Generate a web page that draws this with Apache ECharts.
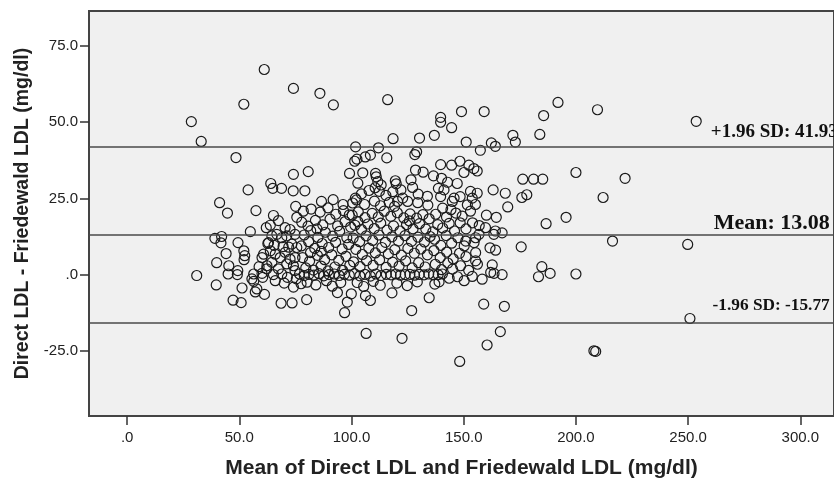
<!DOCTYPE html>
<html>
<head>
<meta charset="utf-8">
<script src="https://cdn.jsdelivr.net/npm/echarts@6/dist/echarts.min.js"></script>
<style>
html,body{margin:0;padding:0;background:#fff;}
#chart{width:834px;height:484px;}
</style>
</head>
<body>
<div id="chart"></div>
<script>
// ---- data: [mean of Direct & Friedewald LDL, Direct - Friedewald LDL] ----
const highOutliers = [
[61.1,67.3],[74.1,61.1],[52.0,55.9],[28.6,50.2],[33.0,43.7],[48.5,38.4],
[85.9,59.5],[91.9,55.7],[116.1,57.4],[149.0,53.5],[159.1,53.5],[139.7,51.6],[139.7,50.0],[144.6,48.2],
[136.9,45.7],[130.3,44.8],[118.5,44.6],[151.1,43.5],[162.3,43.2],[164.1,42.1],[171.9,45.7],[173.0,43.5],
[183.9,46.0],[185.6,52.2],[192.0,56.5],[209.6,54.1],[253.6,50.3],
[101.8,41.9],[112.0,41.6],[157.4,40.8],[101.4,37.2],[102.4,37.9],[106.1,38.6],[108.4,39.2],[115.7,38.3],
[128.2,39.4],[129.0,40.3],[139.7,36.1],[144.6,35.9],[148.3,37.2],[152.3,35.9]
];
const upperBand = [
[74.1,32.9],[80.7,33.8],[99.1,33.2],[105.0,33.4],[110.7,33.2],[111.0,32.1],[128.5,34.3],[131.9,33.6],[136.5,32.4],
[150.1,33.5],[154.5,34.8],[156.0,34.0],[140.1,31.6],[142.8,30.3],[147.1,29.9],[138.7,28.3],[141.2,27.8],
[139.7,25.6],[144.9,24.0],[145.7,25.1],[148.4,25.6],[153.0,27.3],[156.0,26.7],[153.8,25.1],[155.2,23.0],
[163.1,27.8],[168.5,26.7],[169.6,22.2],[64.0,29.9],[64.9,28.3],[68.8,28.3],[53.9,27.8],[74.0,27.5],[79.2,27.5],
[75.1,22.4],[41.2,23.6],[102.8,30.0],[111.7,30.5],[113.2,29.4],[112.4,27.3],[110.5,28.5],[119.5,30.8],
[119.9,29.8],[126.5,31.1],[127.2,28.6],[86.6,24.0],[91.8,24.6],[96.2,23.0],[101.7,25.1],[120.5,24.0],
[122.8,25.1],[125.0,24.0],[102.2,24.5],[151.6,22.9]
];
const leftCluster = [
[75.6,18.8],[44.7,20.2],[57.4,21.0],[65.2,19.4],[67.4,17.7],[62.0,15.4],[63.8,16.2],[54.9,14.1],[39.1,11.9],
[42.1,12.5],[41.8,10.4],[49.4,10.5],[44.1,6.9],[39.9,3.9],[31.0,-0.3],[39.7,-3.4],[45.3,2.9],[45.0,0.2],
[49.3,1.3],[49.1,0.0],[52.0,7.8],[52.4,6.2],[52.1,4.9],[51.2,-4.4],[57.1,-5.7],[57.8,-4.7],[61.2,-6.5],[65.2,0.0],
[62.7,10.2],[64.5,12.7],[66.7,13.2],[70.4,15.4],[72.6,14.8],[68.9,12.1],[71.1,12.7],[74.8,13.2],[73.4,10.0],
[75.6,8.9],[63.8,7.8],[66.0,6.7],[60.8,6.7],[60.1,5.6],[68.2,5.6],[70.4,7.3],[72.6,5.1],[74.8,5.6],[62.3,2.9],
[64.5,4.0],[71.1,3.5],[74.1,2.9],[56.4,0.2],[55.6,-1.4],[60.1,0.4],[60.4,-0.9],[56.4,-2.2],[71.4,-0.9],
[74.8,1.3],[74.1,-4.1],[75.4,-1.4],[68.9,0.2],[67.4,1.9],[63.0,10.5],[62.2,1.9],[66.0,-2.0],[70.0,-2.8],
[58.8,2.6],[72.0,9.0],[69.5,9.2],[65.5,9.6]
];
const coreA = [
[78.5,20.8],[82.0,21.5],[86.0,20.5],[89.5,21.9],[93.0,19.8],[96.4,21.0],[99.0,19.6],
[77.8,17.2],[80.6,15.9],[83.9,17.8],[87.2,16.3],[90.4,18.2],[93.8,16.0],[97.1,17.4],[99.6,15.6],
[78.9,13.0],[81.8,14.4],[85.0,12.2],[88.3,13.9],[91.6,12.6],[94.7,14.2],[97.9,12.1],[84.6,15.0],
[77.6,9.4],[80.9,10.8],[83.6,8.6],[86.9,10.2],[89.8,8.9],[92.9,10.6],[95.8,8.4],[98.7,9.9],[81.7,7.2],
[78.2,5.6],[81.3,4.4],[84.8,6.3],[88.0,4.9],[91.2,6.5],[94.3,4.7],[97.5,6.0],[86.5,7.6],
[79.6,2.2],[83.0,1.5],[86.4,2.8],[89.5,1.2],[92.6,2.5],[96.0,1.4],[99.2,3.0],
[76.8,0.2],[78.9,-0.3],[81.0,0.1],[83.2,-0.2],[85.5,0.3],[87.6,-0.4],[90.0,0.0],[92.3,0.2],[94.5,-0.3],
[96.8,0.1],[99.0,-0.2],[80.2,-2.5],[84.1,-3.4],[88.8,-2.0],[91.4,-3.8],[95.2,-2.6],[77.5,-3.0]
];
const coreB = [
[104.4,26.5],[107.8,27.6],[115.3,26.0],[118.4,27.2],[122.0,27.8],[129.7,26.4],[133.8,25.7],
[100.5,23.5],[105.8,23.0],[110.2,24.1],[112.9,22.6],[116.8,23.7],[119.2,22.4],[129.5,23.6],[134.0,22.8],
[100.3,19.5],[103.0,20.6],[106.0,18.7],[109.2,20.1],[111.9,18.9],[114.6,20.8],[117.5,19.1],[120.4,20.3],
[123.3,18.6],[126.1,19.9],[129.0,18.5],[131.8,19.7],[134.6,18.3],
[101.5,16.2],[104.4,14.8],[107.3,16.6],[110.1,15.1],[113.0,16.9],[115.8,14.6],[118.7,16.0],[121.6,14.3],
[124.5,16.4],[127.4,15.0],[130.3,16.7],[133.1,14.9],[102.8,17.4],[125.8,17.6],
[100.7,12.0],[103.6,10.8],[106.5,12.7],[109.4,11.2],[112.2,13.0],[115.1,10.6],[118.0,12.4],[120.9,11.0],
[123.8,12.8],[126.7,10.9],[129.6,12.3],[132.5,10.7],[135.0,12.5],
[101.9,8.3],[104.8,6.6],[107.7,8.7],[110.6,7.1],[113.5,8.9],[116.4,6.8],[119.3,8.2],[122.2,6.4],[125.1,8.6],
[128.0,7.0],[130.9,8.4],[133.8,6.5],
[100.9,4.2],[103.8,2.6],[106.7,4.6],[109.6,3.0],[112.5,4.8],[115.4,2.4],[118.3,4.1],[121.2,2.8],[124.1,4.5],
[127.0,2.2],[129.9,3.9],[132.8,2.5],
[101.3,0.3],[103.7,-0.4],[106.0,0.1],[108.4,-0.5],[110.8,0.2],[113.1,-0.3],[115.5,0.1],[117.6,-0.1],
[119.7,0.2],[121.8,-0.2],[123.9,0.0],[126.0,0.1],[128.1,-0.2],[130.2,0.1],[132.3,-0.1],[134.4,0.2],
[136.5,-0.1],[138.6,0.0],[140.5,0.2],
[102.5,-2.6],[105.4,-3.9],[109.7,-2.2],[112.8,-3.5],[120.2,-2.8],[124.8,-3.6],[129.3,-2.4],[137.1,-3.1]
];
const coreC = [
[140.6,21.8],[144.3,21.3],[146.5,20.2],[153.0,20.8],[148.4,17.0],[153.9,17.0],[138.4,16.4],[140.6,15.3],
[156.8,13.2],[155.3,12.1],[154.6,10.5],[150.9,11.0],[150.2,9.4],[155.3,7.2],[156.1,3.4],[155.3,4.5],
[145.0,1.8],[147.2,-0.7],[150.2,-2.0],
[137.5,19.8],[142.3,18.9],[149.3,19.2],[136.2,14.0],[143.5,16.8],[145.9,14.3],[151.0,15.0],[156.9,16.1],
[137.0,11.6],[139.8,9.6],[142.2,12.8],[144.6,10.3],[147.4,12.1],[136.7,7.9],[139.5,5.6],[142.4,7.4],
[145.3,5.2],[148.1,7.0],[151.0,5.9],[137.3,3.4],[140.1,1.6],[142.9,3.8],[148.6,2.9],[152.2,1.4],
[143.5,-1.2],[153.8,-0.6],[158.2,-1.5],[139.0,-2.4]
];
const lowerPoints = [
[68.6,-9.4],[73.5,-9.3],[80.0,-8.2],[47.2,-8.4],[50.8,-9.2],
[93.7,-5.9],[99.9,-6.3],[98.1,-9.0],[96.9,-12.5],[106.2,-6.9],[108.4,-8.5],[118.0,-6.0],[126.8,-11.8],
[134.6,-7.6],[106.5,-19.3],[122.5,-20.9],[148.2,-28.5],[160.4,-23.1],[166.3,-18.7],[158.9,-9.7],
[168.1,-10.4],[208.0,-25.0],[208.8,-25.2],[250.8,-14.4]
];
const rightPoints = [
[176.3,31.3],[181.1,31.3],[185.2,31.3],[175.9,25.3],[178.1,26.2],[160.1,19.5],[164.5,18.8],[186.7,16.7],
[195.6,18.8],[200.0,33.5],[212.1,25.3],[221.9,31.6],[216.3,11.0],[249.8,9.9],[175.6,9.1],[184.8,2.6],
[183.3,-0.7],[188.5,0.4],[200.0,0.2],[163.4,13.2],[167.1,13.7],[161.7,8.8],[164.2,8.0],[162.7,3.2],
[163.5,0.4],[167.1,0.0],[162.0,0.7],[159.7,15.4],[164.1,14.3]
];

// reference lines
const meanDiff = 13.08;
const upperLimit = 41.93;
const lowerLimit = -15.77;
const limitLabels = ['+1.96 SD: 41.93', 'Mean: 13.08', '-1.96 SD: -15.77'];

// axis ticks
const xTicks = [0, 50, 100, 150, 200, 250, 300];
const yTicks = [-25, 0, 25, 50, 75];

const allPoints = [].concat(highOutliers, upperBand, leftCluster, coreA, coreB, coreC, lowerPoints, rightPoints);

function fmt(v) { return v === 0 ? '.0' : v.toFixed(1); }

const chart = echarts.init(document.getElementById('chart'), null, {renderer: 'canvas'});
chart.setOption({
  animation: false,
  backgroundColor: '#ffffff',
  grid: {
    left: 89, top: 11, right: -5, bottom: 64,
    show: true, backgroundColor: '#f0f0f0', borderColor: '#444', borderWidth: 2
  },
  xAxis: {
    type: 'value', min: -17, max: 315,
    axisLine: {show: false, onZero: false},
    splitLine: {show: false},
    axisTick: {show: true, customValues: xTicks, length: 9, lineStyle: {color: '#333', width: 1.5}},
    axisLabel: {customValues: xTicks, formatter: fmt, fontSize: 15, color: '#222',
                fontFamily: 'Liberation Sans', margin: 14},
    name: 'Mean of Direct LDL and Friedewald LDL (mg/dl)',
    nameLocation: 'middle', nameGap: 42,
    nameTextStyle: {fontSize: 21, fontWeight: 'bold', color: '#222', fontFamily: 'Liberation Sans'}
  },
  yAxis: {
    type: 'value', min: -46.4, max: 86.5,
    axisLine: {show: false, onZero: false},
    splitLine: {show: false},
    axisTick: {show: true, customValues: yTicks, length: 9, lineStyle: {color: '#333', width: 1.5}},
    axisLabel: {customValues: yTicks, formatter: fmt, fontSize: 15, color: '#222',
                fontFamily: 'Liberation Sans', margin: 11},
    name: 'Direct LDL - Friedewald LDL (mg/dl)',
    nameLocation: 'middle', nameGap: 56,
    nameTextStyle: {fontSize: 19.5, fontWeight: 'bold', color: '#222', fontFamily: 'Liberation Sans'}
  },
  series: [{
    type: 'scatter',
    data: allPoints,
    symbol: 'circle',
    symbolSize: 10,
    itemStyle: {color: 'rgba(0,0,0,0)', borderColor: '#1a1a1a', borderWidth: 1.2, opacity: 1},
    emphasis: {disabled: true},
    markLine: {
      silent: true, symbol: 'none', animation: false,
      label: {show: false},
      lineStyle: {color: '#4a4a4a', width: 1.5, type: 'solid'},
      data: [{yAxis: upperLimit}, {yAxis: meanDiff}, {yAxis: lowerLimit}]
    }
  }]
});

// limit labels, anchored through the axes
const labelSpecs = [
  {text: limitLabels[0], x: 260.1, y: upperLimit, dy: -15, size: 19},
  {text: limitLabels[1], x: 261.4, y: meanDiff, dy: -11.5, size: 22},
  {text: limitLabels[2], x: 260.9, y: lowerLimit, dy: -17.5, size: 17.3}
];
const graphics = labelSpecs.map(function (s) {
  const p = chart.convertToPixel({xAxisIndex: 0, yAxisIndex: 0}, [s.x, s.y]);
  return {
    type: 'text', x: p[0], y: p[1] + s.dy, silent: true,
    style: {text: s.text, fill: '#111', font: 'bold ' + s.size + 'px "Liberation Serif"',
            verticalAlign: 'middle', align: 'left'}
  };
});
chart.setOption({graphic: graphics});
</script>
</body>
</html>
